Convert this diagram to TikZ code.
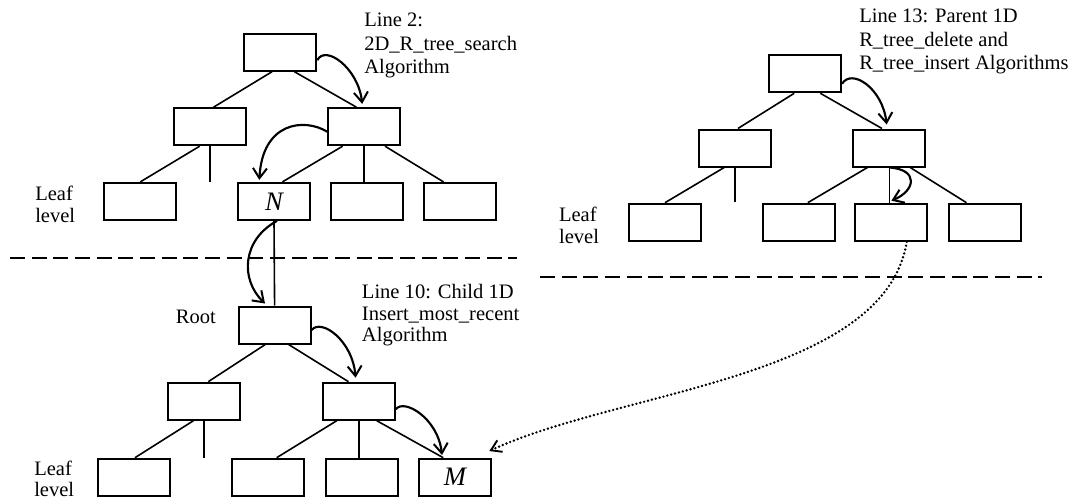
\documentclass[tikz,border=0pt]{standalone}
\usepackage{fontspec}
\setmainfont{Liberation Serif}
\usetikzlibrary{arrows.meta,calc}
\begin{document}
\begin{tikzpicture}[x=0.75pt,y=-0.75pt,
  box/.style={draw, line width=1.5pt, minimum width=54pt, minimum height=27.75pt, inner sep=0pt, fill=white},
  edge/.style={line width=1.2pt},
  flow/.style={line width=1.6pt, -{Straight Barb[length=7.5pt,width=10.5pt,line width=1.5pt]}},
  dots/.style={line width=2pt, line cap=round, dash pattern=on 0pt off 3pt, -{Straight Barb[length=7.5pt,width=9.5pt,line width=1.4pt]}},
  dashline/.style={line width=1.4pt, dash pattern=on 11.25pt off 5pt},
  lbl/.style={anchor=base west, inner sep=0pt},
  big/.style={font=\fontsize{20}{20}\selectfont\itshape}
]
\useasboundingbox (0,0) rectangle (1075,500);

% ---- top-left tree
\node[box] (r1) at (280.3,52.2) {};
\node[box] (ml1) at (210.2,126.7) {};
\node[box] (mr1) at (364.2,126.7) {};
\node[box] (l11) at (140.3,201.4) {};
\node[box,big] (N) at (274,201.4) {N};
\node[box] (l13) at (366.6,201.4) {};
\node[box] (l14) at (460.3,201.4) {};

% ---- bottom tree
\node[box] (r2) at (274.6,325) {};
\node[box] (ml2) at (204.4,401.2) {};
\node[box] (mr2) at (358.9,401.2) {};
\node[box] (l21) at (134.3,477.2) {};
\node[box] (l22) at (268,477.2) {};
\node[box] (l23) at (361.7,477.2) {};
\node[box,big] (M) at (455,477.2) {M};

% ---- right tree
\node[box] (r3) at (805,73.8) {};
\node[box] (ml3) at (735,148) {};
\node[box] (mr3) at (889.3,148) {};
\node[box] (l31) at (665,222.2) {};
\node[box] (l32) at (798.7,222.2) {};
\node[box] (l33) at (891.4,222.2) {};
\node[box] (l34) at (985.3,222.2) {};

% ---- edges top-left
\draw[edge] ([xshift=-6.2pt]r1.south) -- ([xshift=2.5pt]ml1.north);
\draw[edge] ([xshift=10.6pt]r1.south) -- ([xshift=-5.8pt]mr1.north);
\draw[edge] ([xshift=-7.9pt]ml1.south) -- (l11.north);
\draw[edge] (ml1.south) -- ++(0,36);
\draw[edge] ([xshift=-16.2pt]mr1.south) -- ([xshift=6.3pt]N.north);
\draw[edge] (mr1.south) -- (mr1.south |- l13.north);
\draw[edge] ([xshift=15.6pt]mr1.south) -- ([xshift=-12.6pt]l14.north);
\draw[edge] (N.south) -- (r2.north);

% ---- edges bottom
\draw[edge] ([xshift=-7pt]r2.south) -- ([xshift=2.9pt]ml2.north);
\draw[edge] ([xshift=10.5pt]r2.south) -- ([xshift=-7.8pt]mr2.north);
\draw[edge] ([xshift=-8.2pt]ml2.south) -- ([xshift=0.5pt]l21.north);
\draw[edge] ([xshift=-0.4pt]ml2.south) -- ++(0,37);
\draw[edge] ([xshift=-16.6pt]mr2.south) -- ([xshift=6.5pt]l22.north);
\draw[edge] (mr2.south) -- (mr2.south |- l23.north);
\draw[edge] ([xshift=13.4pt]mr2.south) -- ([xshift=-8.8pt]M.north);

% ---- edges right
\draw[edge] ([xshift=-8.1pt]r3.south) -- ([xshift=2.2pt]ml3.north);
\draw[edge] ([xshift=11.5pt]r3.south) -- ([xshift=-5.5pt]mr3.north);
\draw[edge] ([xshift=-8.1pt]ml3.south) -- (l31.north);
\draw[edge] (ml3.south) -- ++(0,34);
\draw[edge] ([xshift=-16.4pt]mr3.south) -- ([xshift=6.8pt]l32.north);
\draw[edge] (mr3.south) -- (mr3.south |- l33.north);
\draw[edge] ([xshift=15.7pt]mr3.south) -- ([xshift=-14.1pt]l34.north);

% ---- curved arrows
\draw[flow] ([yshift=-6pt]r1.east) .. controls +(8,-16) and +(-4,-36) .. ([xshift=-1.5pt,yshift=2.5pt]mr1.north);
\draw[flow] ([yshift=-3.75pt]mr1.west) .. controls +(-23,-14) and +(3,-58) .. ([xshift=-11pt,yshift=1.5pt]N.north);
\draw[flow] ([xshift=2.25pt]N.south) .. controls +(-35,19) and +(-25,-24) .. ([xshift=-7.2pt,yshift=1.5pt]r2.north);
\draw[flow] ([yshift=-3.75pt]r2.east) .. controls +(10,-12) and +(-3,-37) .. ([xshift=-2.5pt,yshift=3pt]mr2.north);
\draw[flow] ([yshift=-6pt]mr2.east) .. controls +(8,-11) and +(-4,-37) .. ([xshift=-9.75pt,yshift=2pt]M.north);
\draw[flow] ([yshift=-7.5pt]r3.east) .. controls +(10,-16) and +(-4,-36) .. ([xshift=-2pt,yshift=3pt]mr3.north);
\draw[flow] (mr3.south) .. controls +(30,2) and +(24,-10) .. ([yshift=1.5pt]l33.north);
\draw[dots] ([xshift=11.5pt]l33.south) .. controls +(-22,137) and +(131,-61) .. ([xshift=-2pt,yshift=5pt]M.north east);

% ---- dashed separators
\coordinate (d1a) at (10,258.3);
\coordinate (d1b) at (516.5,258.3);
\coordinate (d2a) at (540,277);
\coordinate (d2b) at (1041.5,277);
\draw[dashline] (d1a) -- (d1b);
\draw[dashline] (d2a) -- (d2b);

% ---- labels
\node[lbl,font=\fontsize{15.4}{17.6}\selectfont] (t1) at (364,26.7) {\vtop{\hbox{Line 2:}\hbox{2D\_R\_tree\_search}\hbox{Algorithm}}};
\node[lbl,font=\fontsize{15.4}{16.3}\selectfont] (t2) at (361.7,298.3) {\vtop{\hbox{Line 10: Child 1D}\hbox{Insert\_most\_recent}\hbox{Algorithm}}};
\node[lbl,font=\fontsize{15.4}{17.6}\selectfont] (t3) at (859,22.7) {\vtop{\hbox{Line 13: Parent 1D}\hbox{R\_tree\_delete and}\hbox{R\_tree\_insert Algorithms}}};
\node[lbl,font=\fontsize{15.4}{16}\selectfont] (lv1) at (35,200.7) {\vtop{\hbox{Leaf}\hbox{level}}};
\node[lbl,font=\fontsize{15.4}{16}\selectfont] (lv2) at (34,475) {\vtop{\hbox{Leaf}\hbox{level}}};
\node[lbl,font=\fontsize{15.4}{16.5}\selectfont] (lv3) at (558.8,221.7) {\vtop{\hbox{Leaf}\hbox{level}}};
\node[lbl,font=\fontsize{15.4}{17}\selectfont] (rt) at (175.6,323.3) {Root};
\end{tikzpicture}
\end{document}
